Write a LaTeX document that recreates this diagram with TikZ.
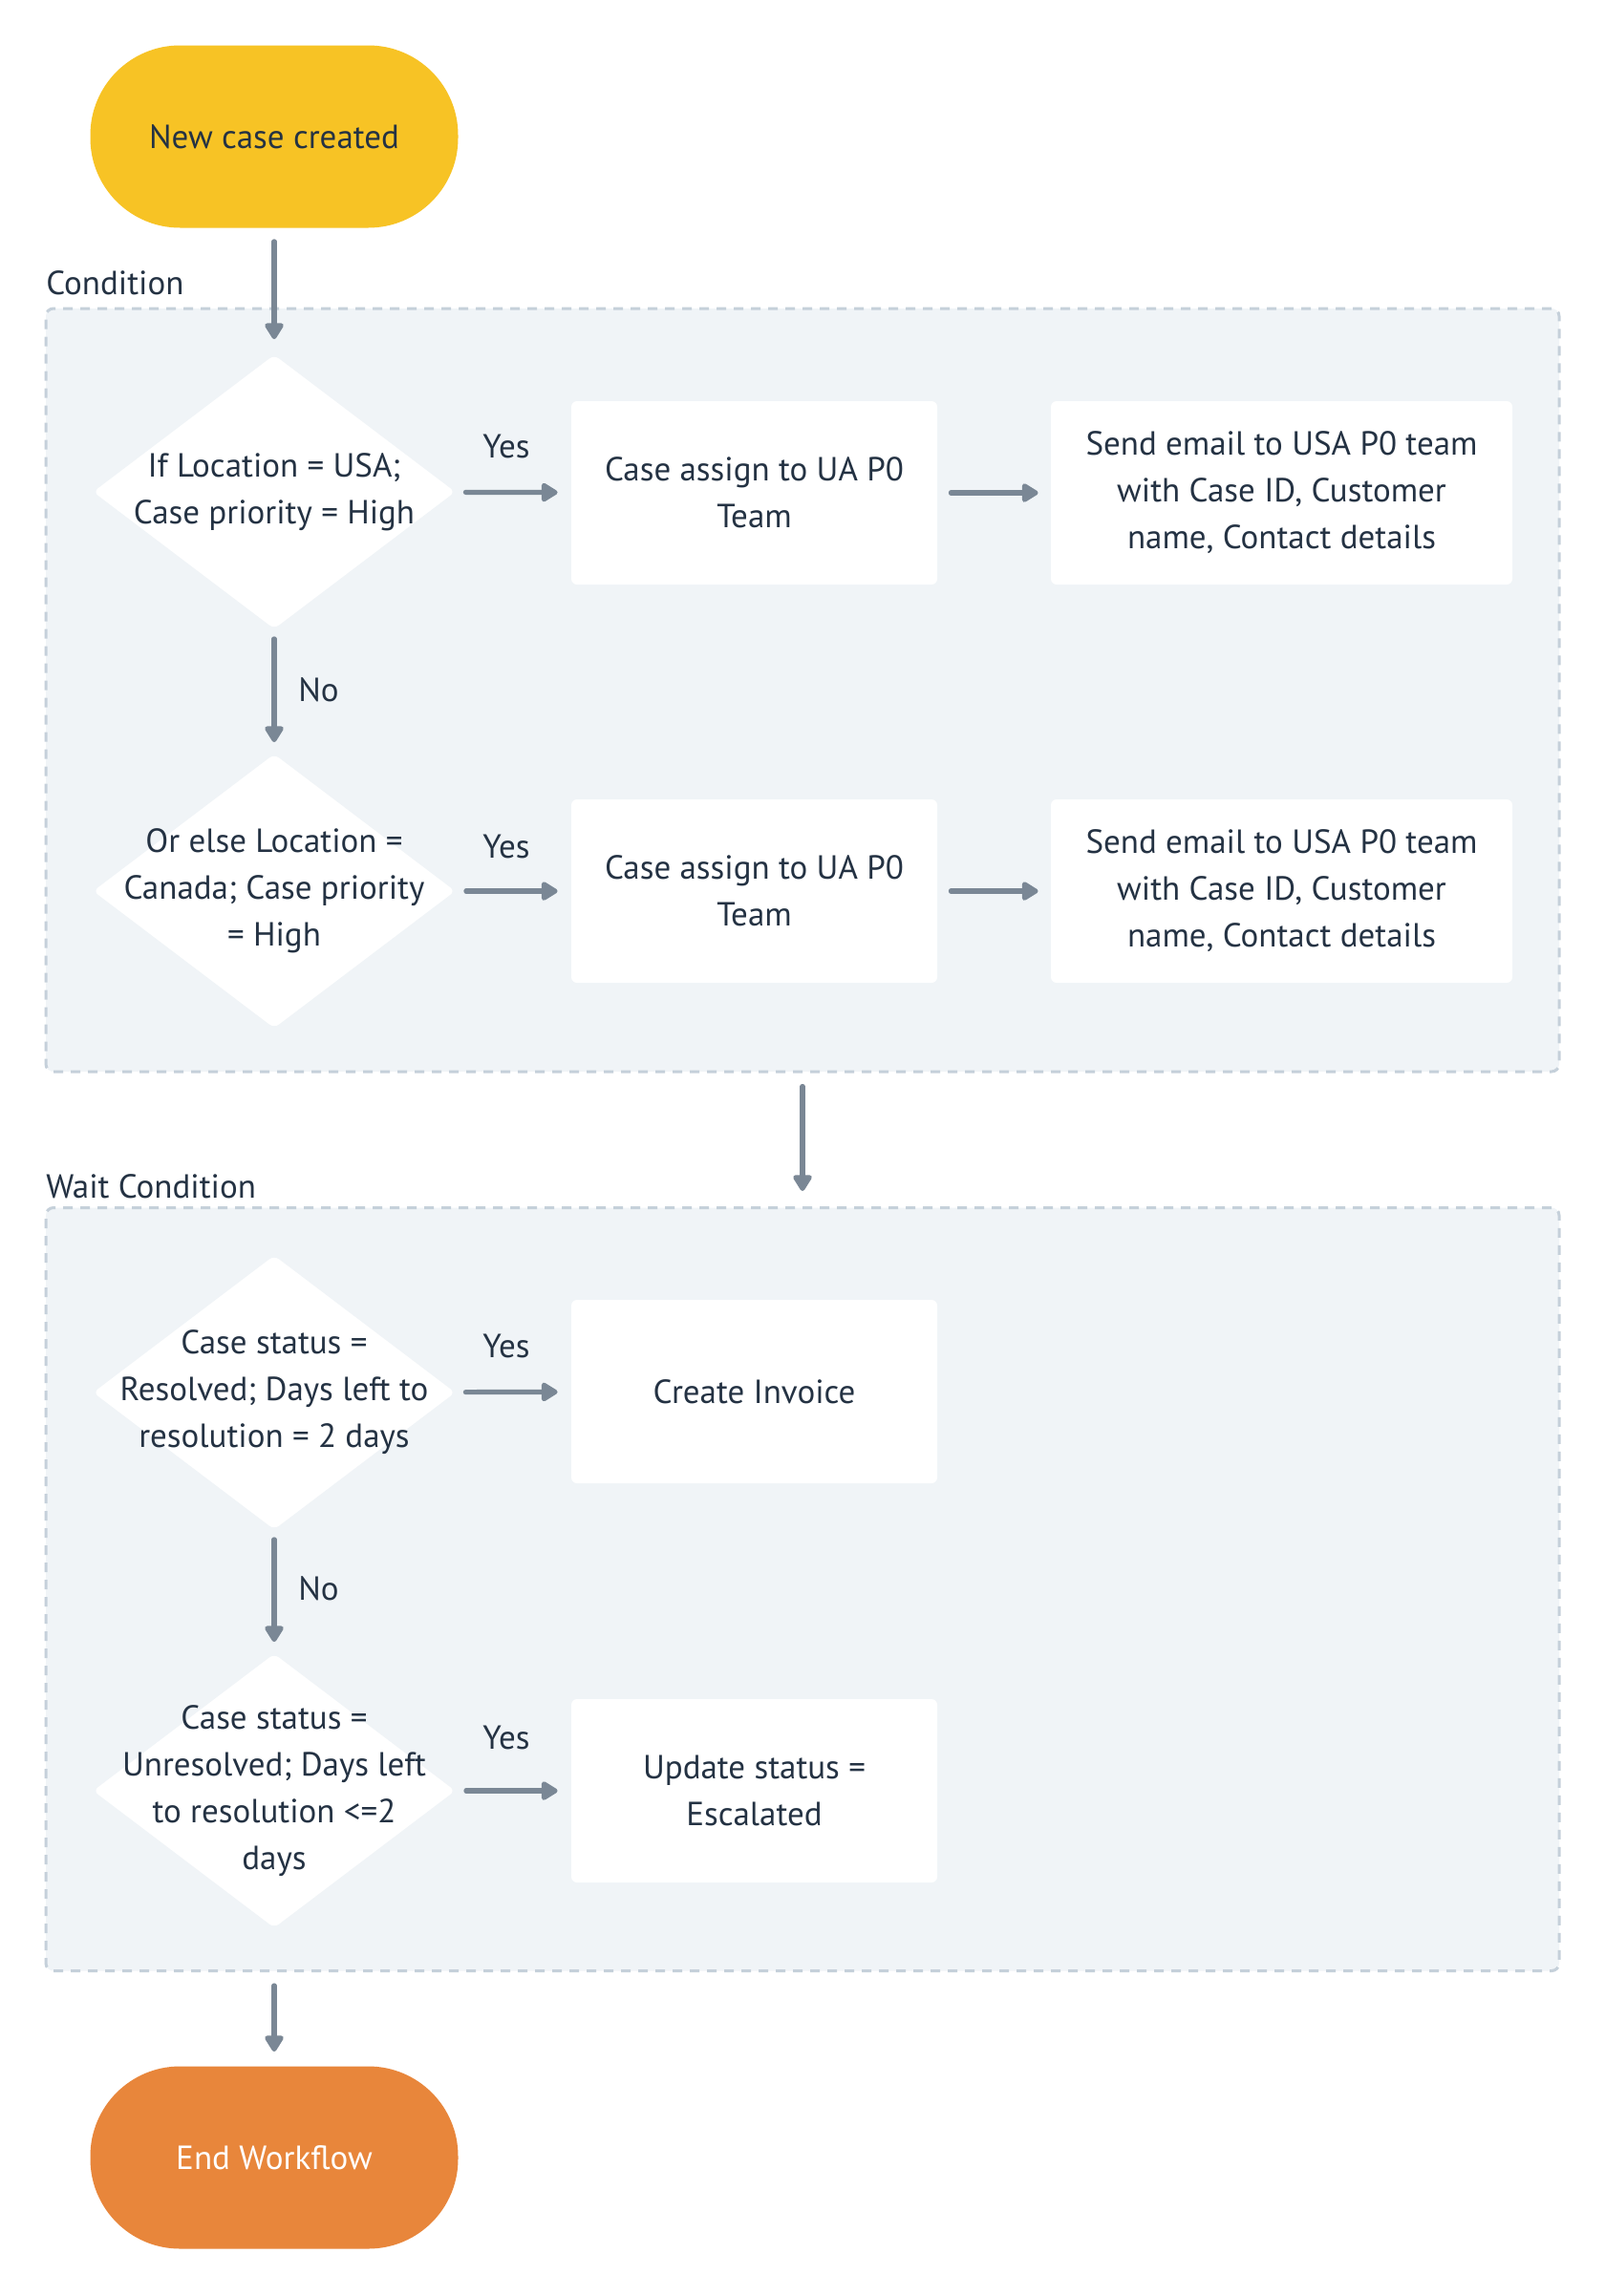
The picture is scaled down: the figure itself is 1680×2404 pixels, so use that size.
\documentclass[tikz,border=0pt]{standalone}
\usepackage{fontspec}
\setmainfont{PT Sans}
\usetikzlibrary{shapes.geometric,arrows.meta}
\definecolor{textc}{HTML}{243243}
\definecolor{arrowc}{HTML}{7A8795}
\definecolor{framefill}{HTML}{F0F4F7}
\definecolor{framedraw}{HTML}{C5D0DA}
\definecolor{startc}{HTML}{F7C325}
\definecolor{endc}{HTML}{E8863B}
\tikzset{
  pill/.style={rectangle, rounded corners=47pt, minimum width=192.5pt, minimum height=95.5pt, inner sep=0pt},
  dia/.style={diamond, fill=white, minimum width=189.5pt, minimum height=143.5pt, inner sep=0pt, rounded corners=3pt},
  dtext/.style={align=center, inner sep=0pt},
  box/.style={rectangle, fill=white, rounded corners=3pt, minimum width=191.5pt, minimum height=96pt, align=center},
  wbox/.style={box, minimum width=241.5pt},
  frame/.style={rectangle, draw=framedraw, fill=framefill, dash pattern=on 5pt off 4pt, line width=1.5pt, rounded corners=4pt, minimum width=792pt, minimum height=399.5pt},
  conn/.style={draw=arrowc, line width=2.6pt, line cap=round, -{Triangle[length=9.5pt,width=11pt,round]}},
  lbl/.style={inner sep=0pt},
}
\begin{document}
\begin{tikzpicture}[x=0.5pt,y=-0.5pt, font=\fontsize{17.5}{24.5}\selectfont, text=textc]
\path[use as bounding box, fill=white] (0,0) rectangle (1680,2404);

% frames
\node[frame] (cond) at (840,722.5) {};
\node[frame] (wait) at (840,1664) {};
\node[lbl, anchor=west] (condl) at (48,296) {Condition};
\node[lbl, anchor=west] (waitl) at (48,1242) {Wait Condition};

% start / end
\node[pill, fill=startc] (start) at (287,143) {New case created};
\node[pill, fill=endc, text=white] (endw) at (287,2259) {End Workflow};

% condition block
\node[dia] (d1) at (287,515) {};
\node[dtext] (d1t) at (d1) {If Location = USA;\\Case priority = High};
\node[box] (a1) at (789.5,516) {Case assign to UA P0\\Team};
\node[wbox] (b1) at (1341.5,516) {Send email to USA P0 team\\with Case ID, Customer\\name, Contact details};

\node[dia] (d2) at (287,933) {};
\node[dtext] (d2t) at (d2) {Or else Location =\\Canada; Case priority\\= High};
\node[box] (a2) at (789.5,933) {Case assign to UA P0\\Team};
\node[wbox] (b2) at (1341.5,933) {Send email to USA P0 team\\with Case ID, Customer\\name, Contact details};

% wait block
\node[dia] (d3) at (287,1458) {};
\node[dtext] (d3t) at (d3) {Case status =\\Resolved; Days left to\\resolution = 2 days};
\node[box] (a3) at (789.5,1457) {Create Invoice};

\node[dia] (d4) at (287,1875) {};
\node[dtext] (d4t) at (d4) {Case status =\\Unresolved; Days left\\to resolution <=2\\days};
\node[box] (a4) at (789.5,1875) {Update status =\\Escalated};

% labels
\node[lbl] (y1) at (530,467) {Yes};
\node[lbl] (y2) at (530,886) {Yes};
\node[lbl] (y3) at (530,1409) {Yes};
\node[lbl] (y4) at (530,1819) {Yes};
\node[lbl, anchor=west] (n1) at (312,722) {No};
\node[lbl, anchor=west] (n2) at (312,1663) {No};

% connectors
\draw[conn, shorten <=7pt, shorten >=8pt] (start) -- (d1);
\draw[conn, shorten <=5.5pt, shorten >=7pt] (d1) -- (a1);
\draw[conn, shorten <=7pt, shorten >=6.5pt] (a1) -- (b1);
\draw[conn, shorten <=5pt, shorten >=6pt] (d1) -- (d2);
\draw[conn, shorten <=5.5pt, shorten >=7pt] (d2) -- (a2);
\draw[conn, shorten <=7pt, shorten >=6.5pt] (a2) -- (b2);
\draw[conn, shorten <=7pt, shorten >=8pt] (cond) -- (wait);
\draw[conn, shorten <=5.5pt, shorten >=7pt] (d3) -- (a3);
\draw[conn, shorten <=5pt, shorten >=6pt] (d3) -- (d4);
\draw[conn, shorten <=5.5pt, shorten >=7pt] (d4) -- (a4);
\draw[conn, shorten <=7pt, shorten >=7.5pt] (wait.south -| endw) -- (endw);
\end{tikzpicture}
\end{document}
